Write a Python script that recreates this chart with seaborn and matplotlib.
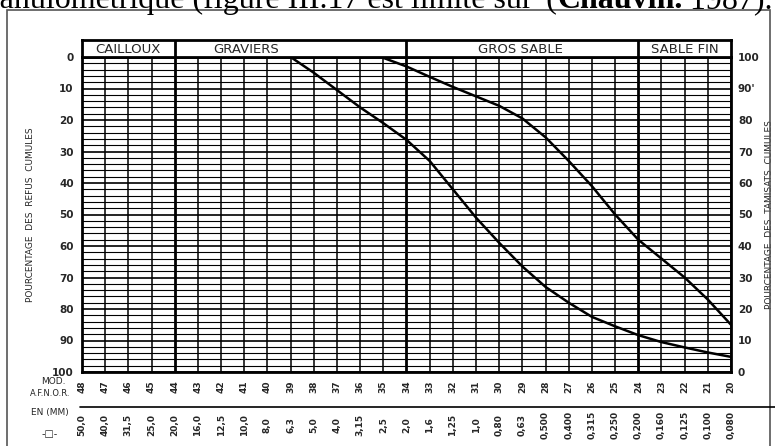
import numpy as np
import pandas as pd
import matplotlib
matplotlib.use("Agg")
import matplotlib.pyplot as plt
import seaborn as sns
from matplotlib.patches import Rectangle

sns.set_theme(style="white")
plt.rcParams['font.family'] = ['DejaVu Sans']

# ---------------- data ----------------
modules = [48, 47, 46, 45, 44, 43, 42, 41, 40, 39, 38, 37, 36, 35, 34, 33, 32, 31,
           30, 29, 28, 27, 26, 25, 24, 23, 22, 21, 20]
sieves = ["50,0", "40,0", "31,5", "25,0", "20,0", "16,0", "12,5", "10,0", "8,0", "6,3",
          "5,0", "4,0", "3,15", "2,5", "2,0", "1,6", "1,25", "1,0", "0,80", "0,63",
          "0,500", "0,400", "0,315", "0,250", "0,200", "0,160", "0,125", "0,100", "0,080"]
left_ticks = [0, 10, 20, 30, 40, 50, 60, 70, 80, 90, 100]
right_labels = ["100", "90'", "80", "70", "60", "50", "40", "30", "20", "10", "0"]
zones = ["CAILLOUX", "GRAVIERS", "GROS SABLE", "SABLE FIN"]
zone_bounds = [(48, 44), (44, 34), (34, 24), (24, 20)]
zone_label_pos = [46, 40.9, 29.1, 22]

curve1_mod = [39, 38, 37, 36, 35, 34, 33, 32, 31, 30, 29, 28, 27, 26, 25, 24, 23, 22, 21, 20]
curve1_refus = [0, 5, 10.5, 16, 21, 26.3, 33, 42, 51, 59, 66.5, 73, 78, 82.5, 85.5, 88.3,
                90.5, 92.2, 93.8, 95.2]
curve2_mod = [35.1, 34, 33, 32, 31, 30, 29, 28, 27, 26, 25, 24, 23, 22, 21, 20]
curve2_refus = [0, 3, 6.3, 9.5, 12.5, 15.5, 19.5, 25.5, 33, 41, 50, 58, 64, 70, 77, 85]

df = pd.concat([
    pd.DataFrame({"module": curve1_mod, "refus": curve1_refus, "courbe": "A"}),
    pd.DataFrame({"module": curve2_mod, "refus": curve2_refus, "courbe": "B"}),
])

# ---------------- figure ----------------
W, H = 775, 446
fig = plt.figure(figsize=(W / 100, H / 100), dpi=100)
fig.patch.set_facecolor("white")

def fx(px):
    return px / W

def fy(py):
    return 1 - py / H

x0, x1, y0, y1 = 82, 731, 57, 372
ax = fig.add_axes([fx(x0), fy(y1), fx(x1) - fx(x0), fy(y0) - fy(y1)])
hax = fig.add_axes([fx(x0), fy(y0), fx(x1) - fx(x0), fy(40) - fy(y0)])

# page frame
fig.add_artist(Rectangle((fx(7), -0.05), fx(770) - fx(7), fy(10) + 0.05,
                         transform=fig.transFigure, fill=False, lw=1.2,
                         edgecolor="#555555"))

# top document text (clipped by the page edge as in the scan)
renderer = fig.canvas.get_renderer()
inv = fig.transFigure.inverted()
base_y = fy(8)
fs_top = 23
t3 = fig.text(fx(773), base_y, " 1987).", ha="right", va="baseline",
              family="Liberation Serif", fontsize=fs_top, color="black")
left3 = inv.transform((t3.get_window_extent(renderer).x0, 0))[0]
t2 = fig.text(left3, base_y, "Chauvin.", ha="right", va="baseline",
              family="Liberation Serif", fontsize=fs_top, fontweight="bold", color="black")
left2 = inv.transform((t2.get_window_extent(renderer).x0, 0))[0]
fig.text(left2, base_y, "granulométrique (figure III.17 est limité sur '(",
         ha="right", va="baseline", family="Liberation Serif", fontsize=fs_top,
         color="black")

# grid
for m in modules:
    lw = 2.0 if m in (44, 34, 24) else 1.1
    ax.axvline(m, color="black", lw=lw, zorder=1)
for v in range(0, 101, 2):
    lw = 1.2 if v % 10 == 0 else 0.8
    ax.axhline(v, color="black", lw=lw, zorder=1)

sns.lineplot(data=df, x="module", y="refus", units="courbe", estimator=None,
             color="black", lw=1.8, ax=ax, zorder=3, sort=False)

ax.set_xlim(48, 20)
ax.set_ylim(100, 0)
ax.set_xticks([])
ax.set_yticks(left_ticks)
ax.set_yticklabels([str(t) for t in left_ticks], fontsize=7.5, fontweight="bold")
ax.tick_params(axis="y", length=0, pad=6)
ax.set_xlabel("")
ax.set_ylabel("POURCENTAGE  DES  REFUS  CUMULES", fontsize=6.5, labelpad=12)
for s in ax.spines.values():
    s.set_color("black")
    s.set_linewidth(2)
    s.set_visible(True)

rax = ax.twinx()
rax.set_ylim(100, 0)
rax.set_yticks(left_ticks)
rax.set_yticklabels(right_labels, fontsize=7.5, fontweight="bold")
rax.tick_params(axis="y", length=0, pad=5)
rax.set_ylabel("POURCENTAGE  DES  TAMISATS  CUMULES", fontsize=6.5, labelpad=4)
for s in rax.spines.values():
    s.set_visible(False)

# header band
hax.set_xlim(48, 20)
hax.set_ylim(0, 1)
hax.set_xticks([])
hax.set_yticks([])
for s in hax.spines.values():
    s.set_color("black")
    s.set_linewidth(2)
for (a, b) in zone_bounds[1:]:
    hax.axvline(a, color="black", lw=2)
for name, pos in zip(zones, zone_label_pos):
    hax.text(pos, 0.45, name, ha="center", va="center", fontsize=9.5)

# bottom rows
fig.text(fx(53), fy(381), "MOD.", ha="center", va="center", fontsize=6.5)
fig.text(fx(50), fy(394), "A.F.N.O.R.", ha="center", va="center", fontsize=6)
fig.text(fx(50), fy(413), "EN (MM)", ha="center", va="center", fontsize=6.5)
fig.text(fx(50), fy(434), "-□-", ha="center", va="center", fontsize=7)
fig.add_artist(plt.Line2D([fx(80), fx(775)], [fy(407), fy(407)],
                          transform=fig.transFigure, color="black", lw=1.2))
for m, s in zip(modules, sieves):
    xd = ax.transData.transform((m, 0))[0]
    xf = inv.transform((xd, 0))[0]
    fig.text(xf, fy(387), str(m), rotation=90, ha="center", va="center",
             fontsize=6.5, fontweight="bold")
    fig.text(xf, fy(425), s, rotation=90, ha="center", va="center",
             fontsize=6.5, fontweight="bold")

fig.savefig("out.png", dpi=100)
